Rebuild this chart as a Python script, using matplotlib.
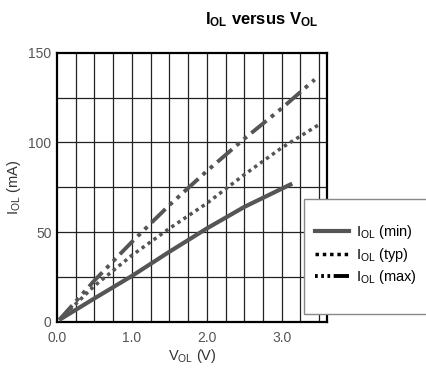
import matplotlib
matplotlib.use("Agg")
import matplotlib.pyplot as plt
from matplotlib.lines import Line2D
from matplotlib.patches import Rectangle

plt.rcParams['font.family'] = ['Liberation Sans', 'DejaVu Sans']
plt.rcParams['mathtext.fontset'] = 'custom'
plt.rcParams['mathtext.rm'] = 'Liberation Sans'
plt.rcParams['mathtext.bf'] = 'Liberation Sans:bold'

v_min = [0.03, 0.5, 1.0, 1.5, 2.0, 2.5, 3.14]
i_min = [1, 13, 25.5, 39, 52, 64, 77]
v_typ = [0.03, 0.5, 1.0, 1.5, 2.0, 2.5, 3.0, 3.52]
i_typ = [1, 20, 37, 52, 66, 82, 97, 110.5]
v_max = [0.03, 0.5, 1.0, 1.5, 2.0, 2.5, 3.0, 3.44]
i_max = [1, 23, 44.5, 65, 84, 102, 119, 135]

xticks = [0.0, 1.0, 2.0, 3.0]
yticks = [0, 50, 100, 150]

fig = plt.figure(figsize=(4.26, 3.71), dpi=100)
ax = fig.add_axes([57/426, 1-321.7/371, (326.7-57)/426, (321.7-52.7)/371])

ax.set_xlim(0, 3.6)
ax.set_ylim(0, 150)

# grid every 0.25 V and 25 mA
for x in [0.25*k for k in range(1, 15)]:
    ax.axvline(x, color='#222222', lw=0.9, zorder=1)
for y in [25, 50, 75, 100, 125]:
    ax.axhline(y, color='#222222', lw=0.9, zorder=1)

lc = '#555555'
ax.plot(v_min, i_min, color=lc, lw=3, solid_capstyle='butt', zorder=3)
ax.plot(v_typ, i_typ, color=lc, lw=2.5, dashes=(1, 1.1), zorder=3)
ax.plot(v_max, i_max, color=lc, lw=2.8, dashes=(5, 1.5, 1, 1.5, 1, 1.5), zorder=3)

ax.set_xticks(xticks)
ax.set_xticklabels(['%.1f' % x for x in xticks])
ax.set_yticks(yticks)
ax.tick_params(length=0, labelsize=10, labelcolor='#555555')
ax.tick_params(axis='x', pad=7)
ax.tick_params(axis='y', pad=4)
for s in ax.spines.values():
    s.set_color('black')
    s.set_linewidth(1.6)

ax.set_xlabel(r'$\mathregular{V_{OL}}$ (V)', fontsize=10.5, color='#333333', labelpad=1)
ax.set_ylabel(r'$\mathregular{I_{OL}}$ (mA)', fontsize=10.5, color='#333333', labelpad=4)

fig.text(262/426, 1-20/371, r'$\mathbf{I_{OL}}$ versus $\mathbf{V_{OL}}$',
         ha='center', va='center', fontsize=12, fontweight='bold')

# legend box
fig.patches.append(Rectangle((304/426, 1-314/371), 130/426, 115/371,
                             transform=fig.transFigure, facecolor='white',
                             edgecolor='#888888', lw=1, zorder=5))
handles = [
    Line2D([], [], color=lc, lw=3),
    Line2D([], [], color='black', lw=2.5, dashes=(1, 1.1)),
    Line2D([], [], color='black', lw=2.8, dashes=(0.7, 0.9, 0.7, 0.9, 0.7, 0.9, 4, 0.01)),
]
labels = [r'$\mathregular{I_{OL}}$ (min)', r'$\mathregular{I_{OL}}$ (typ)',
          r'$\mathregular{I_{OL}}$ (max)']
leg = fig.legend(handles, labels, loc='upper left',
                 bbox_to_anchor=(308/426, 1-216/371), frameon=False,
                 fontsize=10.5, handlelength=2.3, handletextpad=0.5,
                 labelspacing=0.3, borderpad=0)
leg.set_zorder(6)

fig.savefig('out.png', dpi=100)
